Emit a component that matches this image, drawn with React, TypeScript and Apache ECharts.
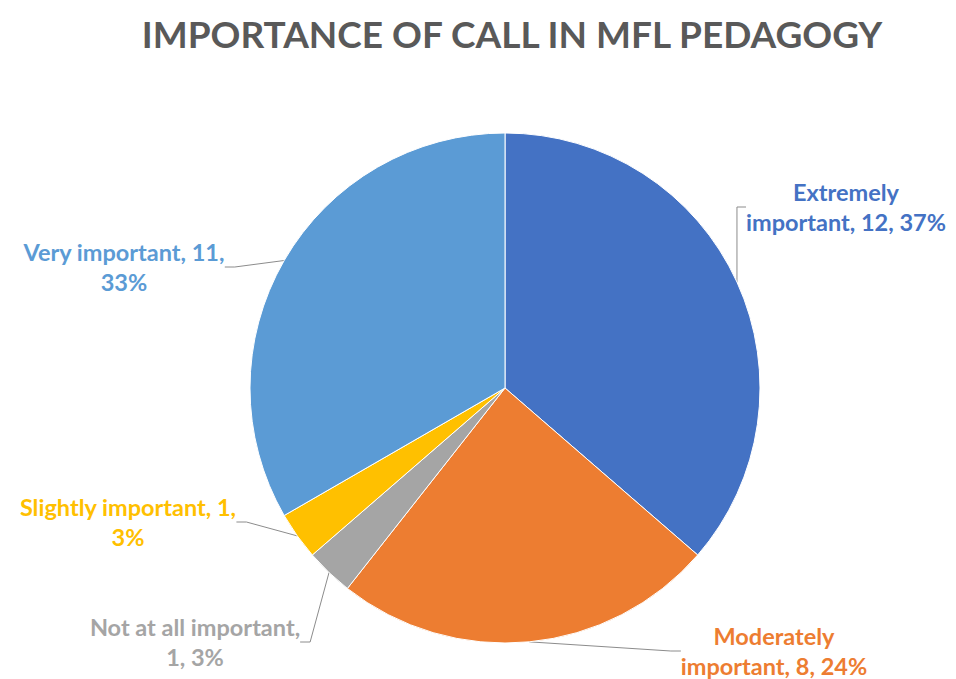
import React, { useEffect, useRef } from "react";
import * as echarts from "echarts";

const categories = [
  "Extremely important",
  "Moderately important",
  "Not at all important",
  "Slightly important",
  "Very important",
];
const counts = [12, 8, 1, 1, 11];
const colors = ["#4472C4", "#ED7D31", "#A5A5A5", "#FFC000", "#5B9BD5"];
// word index after which each label wraps onto a second line
const wrapAfterWord = [1, 1, 4, 3, 3];

const labelPos: [number, number][] = [
  [846, 207],
  [774, 651],
  [195, 642],
  [128, 522],
  [124, 267],
];

export default function App() {
  const ref = useRef<HTMLDivElement>(null);
  useEffect(() => {
    if (!ref.current) return;
    const chart = echarts.init(ref.current, undefined, { renderer: "svg" });
    chart.setOption({
      animation: false,
      backgroundColor: "#ffffff",
      title: {
        text: "IMPORTANCE OF CALL IN MFL PEDAGOGY",
        left: 507,
        textAlign: "center",
        top: 10,
        textStyle: {
          fontFamily: "Lato",
          fontWeight: "bold",
          fontSize: 37,
          color: "#595959",
        },
      },
      series: [
        {
          type: "pie",
          center: [505, 388],
          radius: 255,
          startAngle: 90,
          clockwise: true,
          percentPrecision: 0,
          itemStyle: { borderColor: "#ffffff", borderWidth: 1 },
          label: {
            show: true,
            position: "outside",
            fontFamily: "Lato",
            fontWeight: "bold",
            fontSize: 23.5,
            lineHeight: 30,
            align: "center",
            overflow: "none",
            formatter: (p: any) => {
              const words = `${p.name}, ${p.value}, ${p.percent}%`.split(" ");
              const k = wrapAfterWord[p.dataIndex];
              return words.slice(0, k).join(" ") + "\n" + words.slice(k).join(" ");
            },
          },
          labelLine: {
            show: true,
            length: 10,
            length2: 10,
            lineStyle: { color: "#8c8c8c", width: 1 },
          },
          labelLayout: (params: any) => {
            const pos = labelPos[params.dataIndex];
            return {
              x: pos[0],
              y: pos[1],
              align: "center",
              verticalAlign: "middle",
              hideOverlap: false,
            };
          },
          data: categories.map((c, i) => ({
            name: c,
            value: counts[i],
            itemStyle: { color: colors[i] },
            label: { color: colors[i] },
          })),
        },
      ],
    });
    return () => chart.dispose();
  }, []);
  return (
    <div
      ref={ref}
      style={{ position: "absolute", left: 0, top: 0, width: 956, height: 679 }}
    />
  );
}
